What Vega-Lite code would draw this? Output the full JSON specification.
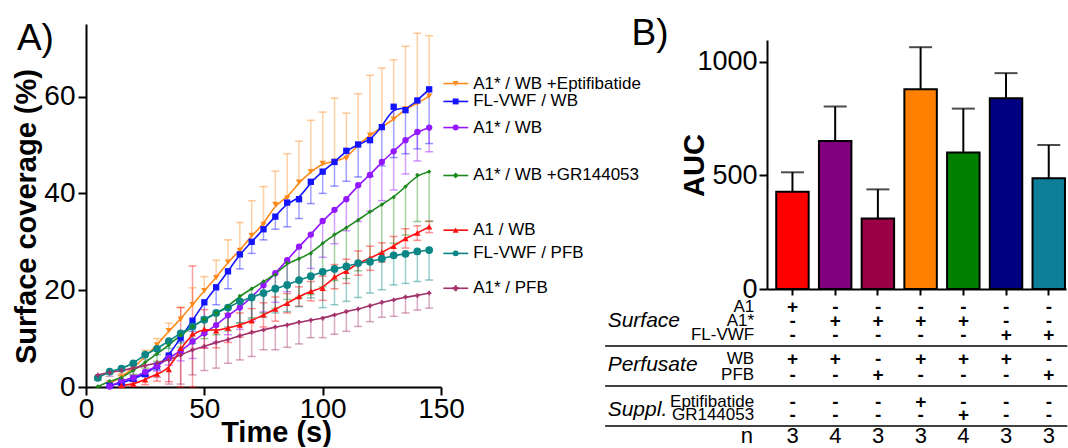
{
"$schema": "https://vega.github.io/schema/vega-lite/v6.json",
"padding": {"left": 12, "top": 15, "right": 0, "bottom": 0},
"background": "white",
"config": {"font": "Liberation Sans", "view": {"stroke": null}, "axis": {"domainColor": "black", "tickColor": "black", "labelColor": "black", "titleColor": "black", "grid": false, "domainWidth": 2, "tickWidth": 2, "labelFont": "Liberation Sans", "titleFont": "Liberation Sans"}, "text": {"font": "Liberation Sans"}},
"datasets": {
"ts": [
{"s":"E","t":10,"v":0.8,"lo":0.8,"hi":1.3},{"s":"E","t":15,"v":2.0,"lo":2.0,"hi":2.8},{"s":"E","t":20,"v":3.9,"lo":3.9,"hi":4.9},{"s":"E","t":25,"v":6.3,"lo":6.3,"hi":7.6},{"s":"E","t":30,"v":8.7,"lo":8.7,"hi":10.0},{"s":"E","t":35,"v":11.6,"lo":11.6,"hi":13.2},{"s":"E","t":40,"v":14.0,"lo":14.0,"hi":16.5},{"s":"E","t":45,"v":17.0,"lo":17.0,"hi":20.5},{"s":"E","t":50,"v":19.9,"lo":19.9,"hi":22.8},{"s":"E","t":55,"v":22.6,"lo":22.6,"hi":26.2},{"s":"E","t":60,"v":25.8,"lo":25.8,"hi":30.4},{"s":"E","t":65,"v":28.2,"lo":28.2,"hi":34.0},{"s":"E","t":70,"v":31.3,"lo":31.3,"hi":38.5},{"s":"E","t":75,"v":33.6,"lo":33.6,"hi":41.4},{"s":"E","t":80,"v":37.7,"lo":37.7,"hi":44.6},{"s":"E","t":85,"v":39.0,"lo":39.0,"hi":48.2},{"s":"E","t":90,"v":42.3,"lo":42.3,"hi":50.8},{"s":"E","t":95,"v":44.5,"lo":44.5,"hi":55.1},{"s":"E","t":100,"v":46.2,"lo":46.2,"hi":56.8},{"s":"E","t":105,"v":46.6,"lo":46.6,"hi":59.7},{"s":"E","t":110,"v":47.2,"lo":47.2,"hi":56.6},{"s":"E","t":115,"v":50.1,"lo":50.1,"hi":60.6},{"s":"E","t":120,"v":52.0,"lo":52.0,"hi":64.4},{"s":"E","t":125,"v":53.7,"lo":53.7,"hi":65.9},{"s":"E","t":130,"v":55.3,"lo":55.3,"hi":67.6},{"s":"E","t":135,"v":57.5,"lo":57.5,"hi":70.4},{"s":"E","t":140,"v":58.6,"lo":58.6,"hi":73.1},{"s":"E","t":145,"v":60.1,"lo":60.1,"hi":72.6},
{"s":"FW","t":10,"v":0.3,"lo":0.1,"hi":0.3},{"s":"FW","t":15,"v":0.8,"lo":0.5,"hi":0.8},{"s":"FW","t":20,"v":1.7,"lo":1.2,"hi":1.7},{"s":"FW","t":25,"v":2.7,"lo":2.1,"hi":2.7},{"s":"FW","t":30,"v":4.3,"lo":3.5,"hi":4.3},{"s":"FW","t":35,"v":6.5,"lo":5.5,"hi":6.5},{"s":"FW","t":40,"v":10.2,"lo":9.4,"hi":10.2},{"s":"FW","t":45,"v":13.7,"lo":11.5,"hi":13.7},{"s":"FW","t":50,"v":17.5,"lo":14.4,"hi":17.5},{"s":"FW","t":55,"v":20.6,"lo":17.0,"hi":20.6},{"s":"FW","t":60,"v":23.9,"lo":20.3,"hi":23.9},{"s":"FW","t":65,"v":27.4,"lo":24.4,"hi":27.4},{"s":"FW","t":70,"v":30.0,"lo":27.6,"hi":30.0},{"s":"FW","t":75,"v":32.6,"lo":30.4,"hi":32.6},{"s":"FW","t":80,"v":35.2,"lo":32.6,"hi":35.2},{"s":"FW","t":85,"v":38.1,"lo":33.1,"hi":38.1},{"s":"FW","t":90,"v":38.8,"lo":34.8,"hi":38.8},{"s":"FW","t":95,"v":42.4,"lo":37.9,"hi":42.4},{"s":"FW","t":100,"v":44.5,"lo":40.0,"hi":44.5},{"s":"FW","t":105,"v":46.5,"lo":41.5,"hi":46.5},{"s":"FW","t":110,"v":48.8,"lo":42.5,"hi":48.8},{"s":"FW","t":115,"v":50.1,"lo":43.4,"hi":50.1},{"s":"FW","t":120,"v":51.0,"lo":43.5,"hi":51.0},{"s":"FW","t":125,"v":53.7,"lo":45.7,"hi":53.7},{"s":"FW","t":130,"v":57.9,"lo":47.4,"hi":57.9},{"s":"FW","t":135,"v":57.2,"lo":48.2,"hi":57.2},{"s":"FW","t":140,"v":59.2,"lo":49.2,"hi":59.2},{"s":"FW","t":145,"v":61.5,"lo":50.3,"hi":61.5},
{"s":"AW","t":10,"v":0.1,"lo":0.0,"hi":0.1},{"s":"AW","t":15,"v":1.3,"lo":1.0,"hi":1.3},{"s":"AW","t":20,"v":1.9,"lo":1.4,"hi":1.9},{"s":"AW","t":25,"v":3.1,"lo":2.3,"hi":3.1},{"s":"AW","t":30,"v":4.3,"lo":3.3,"hi":4.3},{"s":"AW","t":35,"v":6.0,"lo":4.5,"hi":6.0},{"s":"AW","t":40,"v":7.4,"lo":5.4,"hi":7.4},{"s":"AW","t":45,"v":9.4,"lo":5.9,"hi":9.4},{"s":"AW","t":50,"v":11.1,"lo":8.1,"hi":11.1},{"s":"AW","t":55,"v":12.8,"lo":9.3,"hi":12.8},{"s":"AW","t":60,"v":14.8,"lo":10.8,"hi":14.8},{"s":"AW","t":65,"v":16.4,"lo":11.9,"hi":16.4},{"s":"AW","t":70,"v":18.6,"lo":13.6,"hi":18.6},{"s":"AW","t":75,"v":21.0,"lo":15.5,"hi":21.0},{"s":"AW","t":80,"v":23.5,"lo":17.5,"hi":23.5},{"s":"AW","t":85,"v":26.2,"lo":19.7,"hi":26.2},{"s":"AW","t":90,"v":29.0,"lo":22.0,"hi":29.0},{"s":"AW","t":95,"v":31.5,"lo":24.5,"hi":31.5},{"s":"AW","t":100,"v":34.3,"lo":26.8,"hi":34.3},{"s":"AW","t":105,"v":36.6,"lo":29.6,"hi":36.6},{"s":"AW","t":110,"v":38.8,"lo":32.3,"hi":38.8},{"s":"AW","t":115,"v":41.7,"lo":34.2,"hi":41.7},{"s":"AW","t":120,"v":43.8,"lo":36.3,"hi":43.8},{"s":"AW","t":125,"v":46.5,"lo":38.5,"hi":46.5},{"s":"AW","t":130,"v":48.7,"lo":40.7,"hi":48.7},{"s":"AW","t":135,"v":51.0,"lo":44.0,"hi":51.0},{"s":"AW","t":140,"v":52.7,"lo":46.7,"hi":52.7},{"s":"AW","t":145,"v":53.6,"lo":48.6,"hi":53.6},
{"s":"G","t":5,"v":0.1,"lo":0.0,"hi":0.1},{"s":"G","t":10,"v":1.2,"lo":0.9,"hi":1.2},{"s":"G","t":15,"v":1.9,"lo":1.4,"hi":1.9},{"s":"G","t":20,"v":3.4,"lo":2.6,"hi":3.4},{"s":"G","t":25,"v":5.1,"lo":3.9,"hi":5.1},{"s":"G","t":30,"v":6.8,"lo":5.3,"hi":6.8},{"s":"G","t":35,"v":8.7,"lo":6.7,"hi":8.7},{"s":"G","t":40,"v":10.7,"lo":8.2,"hi":10.7},{"s":"G","t":45,"v":12.5,"lo":9.0,"hi":12.5},{"s":"G","t":50,"v":14.0,"lo":10.0,"hi":14.0},{"s":"G","t":55,"v":15.3,"lo":10.8,"hi":15.3},{"s":"G","t":60,"v":16.6,"lo":11.6,"hi":16.6},{"s":"G","t":65,"v":18.8,"lo":13.3,"hi":18.8},{"s":"G","t":70,"v":20.3,"lo":14.3,"hi":20.3},{"s":"G","t":75,"v":21.8,"lo":15.3,"hi":21.8},{"s":"G","t":80,"v":23.2,"lo":16.2,"hi":23.2},{"s":"G","t":85,"v":25.6,"lo":18.1,"hi":25.6},{"s":"G","t":90,"v":26.5,"lo":18.5,"hi":26.5},{"s":"G","t":95,"v":27.6,"lo":19.1,"hi":27.6},{"s":"G","t":100,"v":29.7,"lo":20.7,"hi":29.7},{"s":"G","t":105,"v":31.5,"lo":22.0,"hi":31.5},{"s":"G","t":110,"v":32.9,"lo":22.4,"hi":32.9},{"s":"G","t":115,"v":34.5,"lo":24.0,"hi":34.5},{"s":"G","t":120,"v":36.2,"lo":26.2,"hi":36.2},{"s":"G","t":125,"v":37.7,"lo":27.7,"hi":37.7},{"s":"G","t":130,"v":39.2,"lo":29.7,"hi":39.2},{"s":"G","t":135,"v":41.4,"lo":31.4,"hi":41.4},{"s":"G","t":140,"v":43.8,"lo":34.2,"hi":43.8},{"s":"G","t":145,"v":44.5,"lo":34.2,"hi":44.5},
{"s":"W","t":15,"v":0.3,"lo":0.0,"hi":0.6},{"s":"W","t":20,"v":0.6,"lo":0.1,"hi":1.1},{"s":"W","t":25,"v":1.5,"lo":0.5,"hi":2.5},{"s":"W","t":30,"v":2.7,"lo":1.2,"hi":4.2},{"s":"W","t":35,"v":3.6,"lo":1.1,"hi":6.1},{"s":"W","t":40,"v":8.0,"lo":0.0,"hi":16.4},{"s":"W","t":45,"v":11.0,"lo":0.0,"hi":25.0},{"s":"W","t":50,"v":12.0,"lo":8.0,"hi":16.0},{"s":"W","t":55,"v":11.6,"lo":8.1,"hi":15.1},{"s":"W","t":60,"v":12.2,"lo":9.2,"hi":15.2},{"s":"W","t":65,"v":12.8,"lo":10.3,"hi":15.3},{"s":"W","t":70,"v":13.7,"lo":11.2,"hi":16.2},{"s":"W","t":75,"v":14.9,"lo":12.4,"hi":17.4},{"s":"W","t":80,"v":16.1,"lo":13.6,"hi":18.6},{"s":"W","t":85,"v":17.3,"lo":15.3,"hi":19.3},{"s":"W","t":90,"v":18.7,"lo":16.7,"hi":20.7},{"s":"W","t":95,"v":19.8,"lo":17.8,"hi":21.8},{"s":"W","t":100,"v":20.4,"lo":17.9,"hi":22.9},{"s":"W","t":105,"v":22.8,"lo":20.3,"hi":25.3},{"s":"W","t":110,"v":23.9,"lo":21.4,"hi":26.4},{"s":"W","t":115,"v":25.6,"lo":23.1,"hi":28.1},{"s":"W","t":120,"v":26.6,"lo":24.1,"hi":29.1},{"s":"W","t":125,"v":27.8,"lo":25.8,"hi":29.8},{"s":"W","t":130,"v":29.1,"lo":27.1,"hi":31.1},{"s":"W","t":135,"v":30.7,"lo":28.7,"hi":32.7},{"s":"W","t":140,"v":31.8,"lo":30.3,"hi":33.3},{"s":"W","t":145,"v":33.1,"lo":31.9,"hi":34.3},
{"s":"FP","t":5,"v":1.9,"lo":1.4,"hi":1.9},{"s":"FP","t":10,"v":3.2,"lo":2.7,"hi":3.2},{"s":"FP","t":15,"v":3.8,"lo":3.3,"hi":3.8},{"s":"FP","t":20,"v":4.9,"lo":4.1,"hi":4.9},{"s":"FP","t":25,"v":6.7,"lo":5.7,"hi":6.7},{"s":"FP","t":30,"v":7.9,"lo":6.7,"hi":7.9},{"s":"FP","t":35,"v":9.5,"lo":8.0,"hi":9.5},{"s":"FP","t":40,"v":11.1,"lo":9.1,"hi":11.1},{"s":"FP","t":45,"v":12.5,"lo":10.0,"hi":12.5},{"s":"FP","t":50,"v":13.9,"lo":10.9,"hi":13.9},{"s":"FP","t":55,"v":15.3,"lo":11.8,"hi":15.3},{"s":"FP","t":60,"v":16.4,"lo":12.4,"hi":16.4},{"s":"FP","t":65,"v":17.7,"lo":13.2,"hi":17.7},{"s":"FP","t":70,"v":18.5,"lo":14.0,"hi":18.5},{"s":"FP","t":75,"v":19.4,"lo":14.4,"hi":19.4},{"s":"FP","t":80,"v":20.3,"lo":15.3,"hi":20.3},{"s":"FP","t":85,"v":21.1,"lo":15.6,"hi":21.1},{"s":"FP","t":90,"v":22.1,"lo":16.6,"hi":22.1},{"s":"FP","t":95,"v":22.9,"lo":18.4,"hi":22.9},{"s":"FP","t":100,"v":23.8,"lo":16.4,"hi":23.8},{"s":"FP","t":105,"v":24.4,"lo":17.0,"hi":24.4},{"s":"FP","t":110,"v":24.9,"lo":17.7,"hi":24.9},{"s":"FP","t":115,"v":25.6,"lo":18.5,"hi":25.6},{"s":"FP","t":120,"v":25.9,"lo":19.4,"hi":25.9},{"s":"FP","t":125,"v":26.5,"lo":20.1,"hi":26.5},{"s":"FP","t":130,"v":27.2,"lo":21.1,"hi":27.2},{"s":"FP","t":135,"v":27.5,"lo":21.4,"hi":27.5},{"s":"FP","t":140,"v":28.0,"lo":21.8,"hi":28.0},{"s":"FP","t":145,"v":28.3,"lo":22.1,"hi":28.3},
{"s":"AP","t":5,"v":2.5,"lo":2.0,"hi":2.5},{"s":"AP","t":10,"v":3.0,"lo":2.2,"hi":3.0},{"s":"AP","t":15,"v":3.4,"lo":2.4,"hi":3.4},{"s":"AP","t":20,"v":3.9,"lo":2.4,"hi":3.9},{"s":"AP","t":25,"v":4.4,"lo":2.4,"hi":4.4},{"s":"AP","t":30,"v":5.0,"lo":2.0,"hi":5.0},{"s":"AP","t":35,"v":5.6,"lo":0.6,"hi":5.6},{"s":"AP","t":40,"v":6.6,"lo":0.6,"hi":6.6},{"s":"AP","t":45,"v":7.7,"lo":2.5,"hi":7.7},{"s":"AP","t":50,"v":8.4,"lo":3.4,"hi":8.4},{"s":"AP","t":55,"v":9.2,"lo":3.9,"hi":9.2},{"s":"AP","t":60,"v":9.8,"lo":4.9,"hi":9.8},{"s":"AP","t":65,"v":10.6,"lo":5.6,"hi":10.6},{"s":"AP","t":70,"v":11.3,"lo":6.3,"hi":11.3},{"s":"AP","t":75,"v":11.8,"lo":7.7,"hi":11.8},{"s":"AP","t":80,"v":12.4,"lo":7.7,"hi":12.4},{"s":"AP","t":85,"v":12.8,"lo":8.2,"hi":12.8},{"s":"AP","t":90,"v":13.4,"lo":8.9,"hi":13.4},{"s":"AP","t":95,"v":13.8,"lo":10.2,"hi":13.8},{"s":"AP","t":100,"v":14.2,"lo":10.2,"hi":14.2},{"s":"AP","t":105,"v":14.9,"lo":10.9,"hi":14.9},{"s":"AP","t":110,"v":15.6,"lo":11.5,"hi":15.6},{"s":"AP","t":115,"v":16.1,"lo":12.5,"hi":16.1},{"s":"AP","t":120,"v":16.8,"lo":13.5,"hi":16.8},{"s":"AP","t":125,"v":17.5,"lo":14.4,"hi":17.5},{"s":"AP","t":130,"v":18.0,"lo":14.6,"hi":18.0},{"s":"AP","t":135,"v":18.6,"lo":15.3,"hi":18.6},{"s":"AP","t":140,"v":18.9,"lo":15.9,"hi":18.9},{"s":"AP","t":145,"v":19.4,"lo":16.3,"hi":19.4}
],
"leg": [
{"s":"E","label":"A1* / WB +Eptifibatide","ly":62.7},
{"s":"FW","label":"FL-VWF / WB","ly":59.0},
{"s":"AW","label":"A1* / WB","ly":53.6},
{"s":"G","label":"A1* / WB +GR144053","ly":43.7},
{"s":"W","label":"A1 / WB","ly":32.4},
{"s":"FP","label":"FL-VWF / PFB","ly":27.6},
{"s":"AP","label":"A1* / PFB","ly":20.4}
],
"auc": [
{"g":"1","auc":428,"hi":513},{"g":"2","auc":651,"hi":802},{"g":"3","auc":310,"hi":438},{"g":"4","auc":878,"hi":1063},{"g":"5","auc":600,"hi":793},{"g":"6","auc":839,"hi":949},{"g":"7","auc":487,"hi":633}
],
"sg": [
{"col":1,"ty":-18,"txt":"+"},{"col":2,"ty":-18,"txt":"-"},{"col":3,"ty":-18,"txt":"-"},{"col":4,"ty":-18,"txt":"-"},{"col":5,"ty":-18,"txt":"-"},{"col":6,"ty":-18,"txt":"-"},{"col":7,"ty":-18,"txt":"-"},
{"col":1,"ty":-32,"txt":"-"},{"col":2,"ty":-32,"txt":"+"},{"col":3,"ty":-32,"txt":"+"},{"col":4,"ty":-32,"txt":"+"},{"col":5,"ty":-32,"txt":"+"},{"col":6,"ty":-32,"txt":"-"},{"col":7,"ty":-32,"txt":"-"},
{"col":1,"ty":-46,"txt":"-"},{"col":2,"ty":-46,"txt":"-"},{"col":3,"ty":-46,"txt":"-"},{"col":4,"ty":-46,"txt":"-"},{"col":5,"ty":-46,"txt":"-"},{"col":6,"ty":-46,"txt":"+"},{"col":7,"ty":-46,"txt":"+"},
{"col":1,"ty":-70,"txt":"+"},{"col":2,"ty":-70,"txt":"+"},{"col":3,"ty":-70,"txt":"-"},{"col":4,"ty":-70,"txt":"+"},{"col":5,"ty":-70,"txt":"+"},{"col":6,"ty":-70,"txt":"+"},{"col":7,"ty":-70,"txt":"-"},
{"col":1,"ty":-86,"txt":"-"},{"col":2,"ty":-86,"txt":"-"},{"col":3,"ty":-86,"txt":"+"},{"col":4,"ty":-86,"txt":"-"},{"col":5,"ty":-86,"txt":"-"},{"col":6,"ty":-86,"txt":"-"},{"col":7,"ty":-86,"txt":"+"},
{"col":1,"ty":-113,"txt":"-"},{"col":2,"ty":-113,"txt":"-"},{"col":3,"ty":-113,"txt":"-"},{"col":4,"ty":-113,"txt":"+"},{"col":5,"ty":-113,"txt":"-"},{"col":6,"ty":-113,"txt":"-"},{"col":7,"ty":-113,"txt":"-"},
{"col":1,"ty":-126,"txt":"-"},{"col":2,"ty":-126,"txt":"-"},{"col":3,"ty":-126,"txt":"-"},{"col":4,"ty":-126,"txt":"-"},{"col":5,"ty":-126,"txt":"+"},{"col":6,"ty":-126,"txt":"-"},{"col":7,"ty":-126,"txt":"-"}
],
"nn": [
{"col":1,"ty":-147,"txt":"3"},{"col":2,"ty":-147,"txt":"4"},{"col":3,"ty":-147,"txt":"3"},{"col":4,"ty":-147,"txt":"3"},{"col":5,"ty":-147,"txt":"4"},{"col":6,"ty":-147,"txt":"3"},{"col":7,"ty":-147,"txt":"3"}
],
"sub": [
{"ty":-18,"txt":"A1"},{"ty":-32,"txt":"A1*"},{"ty":-46,"txt":"FL-VWF"},{"ty":-70,"txt":"WB"},{"ty":-86,"txt":"PFB"},{"ty":-113,"txt":"Eptifibatide"},{"ty":-126,"txt":"GR144053"}
],
"blk": [
{"ty":-32,"txt":"Surface"},{"ty":-76,"txt":"Perfusate"},{"ty":-121,"txt":"Suppl."}
],
"hl": [{"ty":-57},{"ty":-97},{"ty":-137}]
},
"bounds": "flush",
"spacing": 326,
"hconcat": [
{
"width": 355, "height": 363,
"layer": [
{"data": {"name": "ts"}, "mark": {"type": "rule", "strokeWidth": 1.5, "opacity": 0.4},
 "encoding": {
  "x": {"field": "t", "type": "quantitative", "scale": {"domain": [0, 150], "nice": false, "zero": false},
        "axis": {"values": [0, 50, 100, 150], "title": "Time (s)", "titleFontSize": 29, "titleFontWeight": "bold", "labelFontSize": 28, "tickSize": 8, "labelPadding": 0, "titlePadding": -5, "titleX": 190, "labelFlush": false, "labelOverlap": false}},
  "y": {"field": "lo", "type": "quantitative", "scale": {"domain": [0, 75], "nice": false},
        "axis": {"values": [0, 20, 40, 60], "title": "Surface coverage (%)", "titleFontSize": 29, "titleFontWeight": "bold", "labelFontSize": 28, "tickSize": 8, "labelPadding": 3, "titlePadding": 2, "titleY": 192, "labelOverlap": false}},
  "y2": {"field": "hi"},
  "color": {"field": "s", "type": "nominal", "scale": {"domain": ["E","FW","AW","G","W","FP","AP"], "range": ["#ff8a1c","#1414ff","#9418ff","#1b8a1b","#ff1010","#0b8585","#a3306b"]}, "legend": null}
 }},
{"data": {"name": "ts"}, "transform": [{"filter": "datum.hi > datum.v"}], "mark": {"type": "tick", "orient": "horizontal", "size": 8, "thickness": 1.5, "opacity": 0.45},
 "encoding": {"x": {"field": "t", "type": "quantitative"}, "y": {"field": "hi", "type": "quantitative"}, "color": {"field": "s", "type": "nominal"}}},
{"data": {"name": "ts"}, "transform": [{"filter": "datum.lo < datum.v"}], "mark": {"type": "tick", "orient": "horizontal", "size": 8, "thickness": 1.5, "opacity": 0.45},
 "encoding": {"x": {"field": "t", "type": "quantitative"}, "y": {"field": "lo", "type": "quantitative"}, "color": {"field": "s", "type": "nominal"}}},
{"data": {"name": "ts"}, "mark": {"type": "line", "interpolate": "basis", "strokeWidth": 1.6},
 "encoding": {"x": {"field": "t", "type": "quantitative"}, "y": {"field": "v", "type": "quantitative"}, "color": {"field": "s", "type": "nominal"}}},
{"data": {"name": "ts"}, "transform": [{"filter": "datum.s == 'E' || datum.s == 'FW' || datum.s == 'AW' || datum.s == 'W'"}], "mark": {"type": "point", "filled": true, "opacity": 1, "size": 40},
 "encoding": {"x": {"field": "t", "type": "quantitative"}, "y": {"field": "v", "type": "quantitative"}, "color": {"field": "s", "type": "nominal"},
  "shape": {"field": "s", "type": "nominal", "scale": {"domain": ["E","FW","AW","G","W","FP","AP"], "range": ["triangle-down","square","circle","diamond","triangle-up","circle","cross"]}, "legend": null}}},
{"data": {"name": "ts"}, "transform": [{"filter": "datum.s == 'FP'"}], "mark": {"type": "point", "filled": true, "opacity": 1, "size": 60},
 "encoding": {"x": {"field": "t", "type": "quantitative"}, "y": {"field": "v", "type": "quantitative"}, "color": {"field": "s", "type": "nominal"}, "shape": {"field": "s", "type": "nominal"}}},
{"data": {"name": "ts"}, "transform": [{"filter": "datum.s == 'G' || datum.s == 'AP'"}], "mark": {"type": "point", "filled": true, "opacity": 1, "size": 20},
 "encoding": {"x": {"field": "t", "type": "quantitative"}, "y": {"field": "v", "type": "quantitative"}, "color": {"field": "s", "type": "nominal"}, "shape": {"field": "s", "type": "nominal"}}},
{"data": {"name": "leg"}, "mark": {"type": "rule", "strokeWidth": 1.6},
 "encoding": {"x": {"datum": 151}, "x2": {"datum": 161.5}, "y": {"field": "ly", "type": "quantitative"}, "color": {"field": "s", "type": "nominal"}}},
{"data": {"name": "leg"}, "mark": {"type": "point", "filled": true, "opacity": 1, "size": 35},
 "encoding": {"x": {"datum": 156.2}, "y": {"field": "ly", "type": "quantitative"}, "color": {"field": "s", "type": "nominal"}, "shape": {"field": "s", "type": "nominal"}}},
{"data": {"name": "leg"}, "mark": {"type": "text", "align": "left", "baseline": "middle", "fontSize": 17, "color": "black"},
 "encoding": {"x": {"datum": 163.6}, "y": {"field": "ly", "type": "quantitative"}, "text": {"field": "label", "type": "nominal"}}},
{"data": {"values": [{"lab": "A)", "lx": -29.2, "lyy": 69.6}, {"lab": "B)", "lx": 230.5, "lyy": 70.66}]}, "mark": {"type": "text", "align": "left", "baseline": "alphabetic", "fontSize": 37, "color": "black"},
 "encoding": {"x": {"field": "lx", "type": "quantitative"}, "y": {"field": "lyy", "type": "quantitative"}, "text": {"field": "lab", "type": "nominal"}}}
]
},
{
"vconcat": [
{"width": 299, "height": 265, "data": {"name": "auc"},
 "layer": [
 {"mark": {"type": "bar", "stroke": "black", "strokeWidth": 2},
  "encoding": {
   "x": {"field": "g", "type": "nominal", "sort": null, "scale": {"paddingInner": 0.24, "paddingOuter": 0.12, "align": 0.9},
         "axis": {"labels": false, "title": null, "tickSize": 6, "ticks": true}},
   "y": {"field": "auc", "type": "quantitative", "scale": {"domain": [0, 1165], "nice": false},
         "axis": {"values": [0, 500, 1000], "format": "d", "title": "AUC", "domainDash": [249, 40], "titleFontSize": 29, "titleFontWeight": "bold", "labelFontSize": 27, "tickSize": 8, "labelPadding": 2, "titlePadding": -13, "titleY": 141, "labelOverlap": false}},
   "fill": {"field": "g", "type": "nominal", "sort": null, "scale": {"domain": ["1","2","3","4","5","6","7"], "range": ["#ff0000","#800080","#9b0045","#ff8000","#008000","#000080","#0e7f99"]}, "legend": null}
  }},
 {"mark": {"type": "rule", "strokeWidth": 2, "color": "black"},
  "encoding": {"x": {"field": "g", "type": "nominal", "sort": null}, "y": {"field": "auc", "type": "quantitative"}, "y2": {"field": "hi"}}},
 {"mark": {"type": "tick", "orient": "horizontal", "size": 23, "thickness": 2, "color": "black"},
  "encoding": {"x": {"field": "g", "type": "nominal", "sort": null}, "y": {"field": "hi", "type": "quantitative"}}}
 ]},
{"width": 299, "height": 156,
 "layer": [
 {"data": {"name": "sg"}, "mark": {"type": "text", "fontSize": 19, "fontWeight": "bold", "baseline": "middle", "align": "center", "color": "black"},
  "encoding": {"x": {"field": "col", "type": "quantitative", "scale": {"domain": [0.4, 7.4], "nice": false, "zero": false}, "axis": null},
               "y": {"field": "ty", "type": "quantitative", "scale": {"domain": [-156, 0], "nice": false, "zero": false}, "axis": {"labels": false, "ticks": false, "title": null, "domain": true}},
               "text": {"field": "txt", "type": "nominal"}}},
 {"data": {"name": "nn"}, "mark": {"type": "text", "fontSize": 22, "baseline": "middle", "align": "center", "color": "black"},
  "encoding": {"x": {"field": "col", "type": "quantitative", "axis": null}, "y": {"field": "ty", "type": "quantitative", "axis": null}, "text": {"field": "txt", "type": "nominal"}}},
 {"data": {"name": "sub"}, "mark": {"type": "text", "fontSize": 17, "baseline": "middle", "align": "right", "color": "black"},
  "encoding": {"x": {"datum": 0.1, "axis": null}, "y": {"field": "ty", "type": "quantitative", "axis": null}, "text": {"field": "txt", "type": "nominal"}}},
 {"data": {"name": "blk"}, "mark": {"type": "text", "fontSize": 21, "fontStyle": "italic", "baseline": "middle", "align": "left", "color": "black"},
  "encoding": {"x": {"datum": -3.33, "axis": null}, "y": {"field": "ty", "type": "quantitative", "axis": null}, "text": {"field": "txt", "type": "nominal"}}},
 {"data": {"values": [{"lab": "n", "lx": 0.07, "lyy": -147}]}, "mark": {"type": "text", "fontSize": 22, "baseline": "middle", "align": "right", "color": "black"},
  "encoding": {"x": {"field": "lx", "type": "quantitative", "axis": null}, "y": {"field": "lyy", "type": "quantitative", "axis": null}, "text": {"field": "lab", "type": "nominal"}}},
 {"data": {"name": "hl"}, "mark": {"type": "rule", "strokeWidth": 1.5, "color": "black"},
  "encoding": {"x": {"datum": -3.39, "axis": null}, "x2": {"datum": 7.43}, "y": {"field": "ty", "type": "quantitative", "axis": null}}}
 ]}
],
"spacing": 0,
"bounds": "flush"
}
]
}
